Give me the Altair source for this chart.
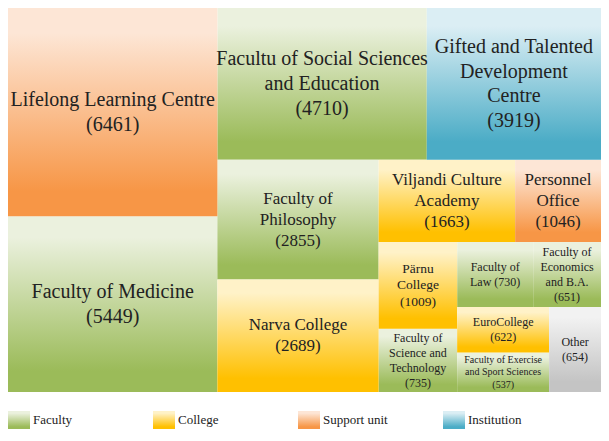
import altair as alt
import pandas as pd

# ---- data ----
names = [
    "Lifelong Learning Centre",
    "Faculty of Medicine",
    "Facultu of Social Sciences\nand Education",
    "Gifted and Talented\nDevelopment\nCentre",
    "Faculty of\nPhilosophy",
    "Narva College",
    "Viljandi Culture\nAcademy",
    "Personnel\nOffice",
    "Pärnu\nCollege",
    "Faculty of\nScience and\nTechnology",
    "Faculty of\nLaw",
    "Faculty of\nEconomics\nand B.A.",
    "EuroCollege",
    "Faculty of Exercise\nand Sport Sciences",
    "Other",
]
values = [6461, 5449, 4710, 3919, 2855, 2689, 1663, 1046, 1009, 735, 730, 651, 622, 537, 654]
types = ["Support unit", "Faculty", "Faculty", "Institution", "Faculty", "College",
         "College", "Support unit", "College", "Faculty", "Faculty", "Faculty",
         "College", "Faculty", "Other"]
legend_cats = ["Faculty", "College", "Support unit", "Institution"]

# ---- styles ----
palette = {
    "Faculty": ("#ebf1de", "#9bbb59"),
    "College": ("#fff2c8", "#ffc000"),
    "Support unit": ("#fde6d6", "#f79646"),
    "Institution": ("#dbeef4", "#4bacc6"),
    "Other": ("#f2f2f2", "#c4c4c4"),
}
FONT = "Liberation Serif"
TXT = "#222222"
W, H = 593, 384
LH = 1.24


def grad(cat):
    light, dark = palette[cat]
    return alt.Gradient(
        gradient="linear", x1=0, x2=0, y1=0, y2=1,
        stops=[alt.GradientStop(offset=0, color=light),
               alt.GradientStop(offset=0.12, color=light),
               alt.GradientStop(offset=0.88, color=dark),
               alt.GradientStop(offset=1, color=dark)])


def layout(vals, w, h):
    """Slice-and-dice in pairs: strips of two items, alternating column / row."""
    rects = []
    x0 = y0 = 0.0
    i = 0
    vertical = True
    while i < len(vals):
        grp = vals[i:i + 2]
        s = sum(grp)
        rest = sum(vals[i:])
        if vertical:
            cw = w * s / rest
            yy = y0
            for v in grp:
                hh = h * v / s
                rects.append((x0, yy, x0 + cw, yy + hh))
                yy += hh
            x0 += cw
            w -= cw
        else:
            rh = h * s / rest
            xx = x0
            for v in grp:
                ww = w * v / s
                rects.append((xx, y0, xx + ww, y0 + rh))
                xx += ww
            y0 += rh
            h -= rh
        vertical = not vertical
        i += 2
    return rects


def font_size(v):
    if v >= 3500:
        return 20
    if v >= 1040:
        return 17
    if v >= 1000:
        return 13.5
    if v >= 600:
        return 12
    return 10


same_line = {"Faculty of\nLaw"}
rects = layout(values, W, H)
rows = []
for n, v, t, (a, b, c, d) in zip(names, values, types, rects):
    sep = " " if n in same_line else "\n"
    label = f"{n}{sep}({v})"
    fs = font_size(v)
    nlines = label.count("\n") + 1
    rows.append(dict(name=n, value=v, type=t, x0=a, y0=b, x1=c, y1=d,
                     cx=(a + c) / 2,
                     ty=(b + d) / 2 - (nlines - 1) * fs * LH / 2,
                     label=label, fs=fs))
df = pd.DataFrame(rows)

xs = alt.Scale(domain=[0, W], nice=False, zero=False)
ys = alt.Scale(domain=[0, H], nice=False, zero=False, reverse=True)

base = alt.Chart(df)
layers = []
for cat in palette:
    layers.append(
        base.transform_filter(alt.datum.type == cat)
        .mark_rect(fill=grad(cat))
        .encode(x=alt.X("x0:Q", scale=xs, axis=None), x2="x1:Q",
                y=alt.Y("y0:Q", scale=ys, axis=None), y2="y1:Q")
    )
for fs in sorted(df["fs"].unique()):
    layers.append(
        base.transform_filter(alt.datum.fs == float(fs))
        .mark_text(font=FONT, fontSize=float(fs), lineHeight=float(fs) * LH,
                   lineBreak="\n", color=TXT, align="center", baseline="middle")
        .encode(x=alt.X("cx:Q", scale=xs, axis=None),
                y=alt.Y("ty:Q", scale=ys, axis=None),
                text="label:N")
    )
treemap = alt.layer(*layers).properties(width=W, height=H)

# ---- legend ----
LW = 580
LEG_H = 18
leg = pd.DataFrame({"cat": legend_cats})
lx = alt.Scale(domain=legend_cats, paddingInner=0, paddingOuter=0)
band = LW / len(legend_cats)
leg_layers = []
for cat in legend_cats:
    leg_layers.append(
        alt.Chart(leg).transform_filter(alt.datum.cat == cat)
        .mark_rect(fill=grad(cat), width=22, height=LEG_H, xOffset=-(band / 2 - 11))
        .encode(x=alt.X("cat:N", scale=lx, axis=None), y=alt.value(LEG_H / 2))
    )
leg_layers.append(
    alt.Chart(leg).mark_text(font=FONT, fontSize=13, color=TXT, align="left",
                             baseline="middle", dx=25)
    .encode(x=alt.X("cat:N", scale=lx, axis=None, bandPosition=0),
            y=alt.value(LEG_H / 2), text="cat:N")
)
legend = alt.layer(*leg_layers).properties(width=LW, height=LEG_H)

chart = (
    alt.vconcat(treemap, legend, spacing=19)
    .properties(padding=0, background="white")
    .configure_view(stroke=None)
)
chart.save("out.html", embed_options={"renderer": "svg", "actions": False})
